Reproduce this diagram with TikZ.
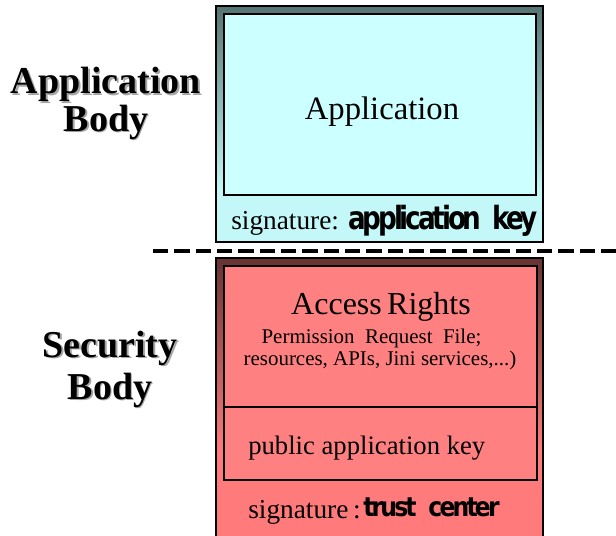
\documentclass[tikz,border=0pt]{standalone}
\usepackage{fontspec}
\setmainfont{Liberation Serif}
\newfontfamily\heavysans[LetterSpace=-12]{DejaVu Sans Bold}
\usepackage{graphicx}
\definecolor{appdark}{HTML}{557373}
\definecolor{appcyan}{HTML}{CCFFFF}
\definecolor{appstrip}{HTML}{C4F7F7}
\definecolor{secdark}{HTML}{663333}
\definecolor{secred}{HTML}{FF8080}
\definecolor{secstrip}{HTML}{FF7A7A}
\newcommand{\keyfont}[2][0.82]{\scalebox{#1}[1]{\heavysans #2}}
\newcommand{\shadowed}[1]{\leavevmode\rlap{\hspace{1.3pt}\raisebox{-1.3pt}{\color{black!35}#1}}#1}
\tikzset{
  frame/.style={draw=black,line width=1.1pt,inner sep=0pt,outer sep=0pt,anchor=north west,minimum width=245.25pt},
  inbox/.style={draw=black,line width=1.4pt,inner sep=0pt,outer sep=0pt,anchor=north west},
  bodylbl/.style={font=\fontsize{28.5}{23.25}\selectfont\bfseries,align=center,anchor=base},
  txt/.style={inner sep=0pt,anchor=base}
}
\begin{document}
\begin{tikzpicture}[x=0.75pt,y=-0.75pt]
\useasboundingbox (0,0) rectangle (616,535);
\clip (0,0) rectangle (616,535);

% application body
\fill[appstrip] (216,6) rectangle (543,242);
\shade[top color=appdark,bottom color=appstrip] (216,6) rectangle (543,190);
\node[frame,minimum height=177pt] (appframe) at (216,6) {};
\node[inbox,fill=appcyan,minimum width=234pt,minimum height=135.75pt] (appbox) at (224,14) {};
\node[txt,font=\fontsize{24.5}{28}\selectfont] (appname) at (382,119) {Application};
\node[txt,anchor=base west,font=\fontsize{20.5}{24}\selectfont] (appsig) at (231,229) {signature:};
\node[txt,anchor=base west,font=\fontsize{24}{28}\selectfont] (appkey) at (348,229) {\keyfont{application\hspace{10pt}key}};

% separator
\coordinate (sepl) at (153,251);
\coordinate (sepr) at (620,251);
\draw[line width=2.5pt,dash pattern=on 11.5pt off 4.5pt] (sepl) -- (sepr);

% security body
\fill[secstrip] (216,258) rectangle (543,540);
\shade[top color=secdark,bottom color=secstrip] (216,258) rectangle (543,450);
\node[frame,minimum height=211.5pt] (secframe) at (216,258) {};
\node[inbox,fill=secred,minimum width=234.75pt,minimum height=105.75pt] (rightsbox) at (224,266) {};
\node[inbox,fill=secred,minimum width=234.75pt,minimum height=54.75pt] (pkeybox) at (224,407) {};
\node[txt,font=\fontsize{24}{28}\selectfont] (rights) at (381,314) {Access\,Rights};
\node[txt,font=\fontsize{15.7}{18}\selectfont] (permfile) at (371.5,343) {Permission\ \ Request\ \ File;};
\node[txt,font=\fontsize{15.7}{18}\selectfont] (reslist) at (380,365) {resources, APIs, Jini services,...)};
\node[txt,anchor=base west,font=\fontsize{20}{24}\selectfont] (pkey) at (248,454) {public application key};
\node[txt,anchor=base west,font=\fontsize{20.5}{24}\selectfont] (secsig) at (248,518) {signature\,:};
\node[txt,anchor=base west,font=\fontsize{20}{24}\selectfont] (trust) at (363,516) {\keyfont[0.88]{trust\hspace{10pt}center}};

% side labels
\node[bodylbl] (applbl) at (106,131) {\shadowed{Application}\\\shadowed{Body}};
\node[bodylbl,font=\fontsize{28.5}{31.5}\selectfont\bfseries] (seclbl) at (110,399) {\shadowed{Security}\\\shadowed{Body}};
\end{tikzpicture}
\end{document}
